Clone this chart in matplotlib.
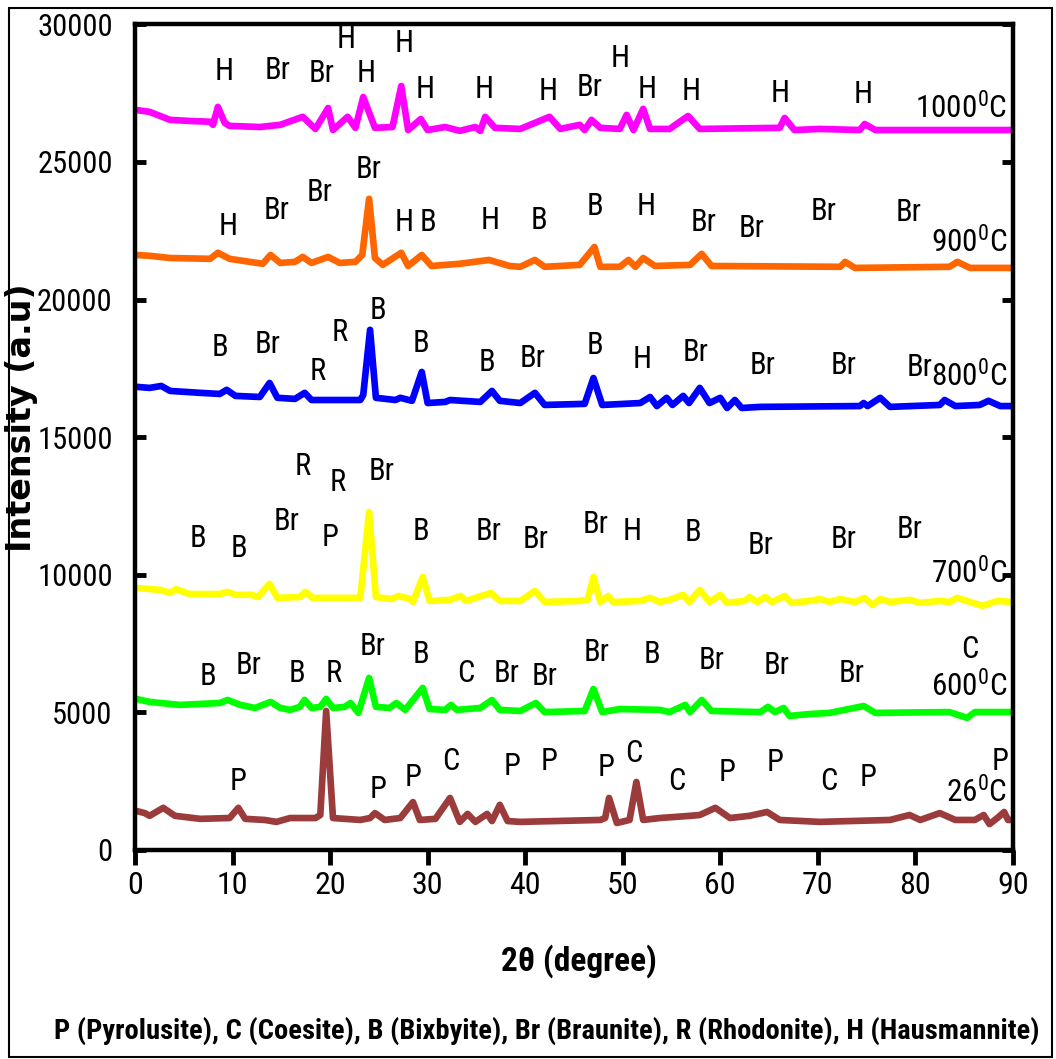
import matplotlib
matplotlib.use('Agg')
import matplotlib.pyplot as plt
from matplotlib import font_manager
from matplotlib.patches import Rectangle

# look for a narrow sans face, the original lettering is condensed
installed = {f.name for f in font_manager.fontManager.ttflist}
FONT = 'DejaVu Sans'
for cand in ['Liberation Sans Narrow', 'Arial Narrow', 'Roboto Condensed', 'Liberation Sans']:
    if cand in installed:
        FONT = cand
        break
plt.rcParams['font.family'] = [FONT, 'DejaVu Sans']
plt.rcParams['mathtext.fontset'] = 'custom'
plt.rcParams['mathtext.rm'] = FONT
plt.rcParams['mathtext.default'] = 'regular'

# ---- diffraction patterns (2theta in degrees, intensity a.u.) ----
tt_1000 = [0.1, 1.5, 3.6, 5.6, 7.7, 8.0, 8.5, 9.2, 9.7, 12.8, 14.9, 17.2, 18.5, 19.8, 20.3, 21.8, 22.6,
           23.4, 24.6, 26.4, 27.3, 28.0, 29.3, 30.0, 31.8, 33.3, 34.9, 35.4, 35.9, 36.9, 39.5, 42.5,
           43.6, 45.6, 46.1, 46.8, 47.7, 49.7, 50.4, 51.1, 52.1, 52.8, 54.8, 56.7, 57.9, 66.1, 66.6,
           67.6, 70.2, 74.3, 74.8, 75.9, 90.0]
int_1000 = [26890, 26820, 26530, 26490, 26460, 26350, 27000, 26420, 26310, 26270, 26350, 26640, 26200,
            26960, 26160, 26640, 26240, 27360, 26240, 26270, 27760, 26160, 26560, 26160, 26270, 26130,
            26270, 26130, 26640, 26240, 26200, 26640, 26200, 26350, 26160, 26530, 26240, 26200, 26710,
            26160, 26930, 26200, 26200, 26670, 26200, 26240, 26600, 26160, 26200, 26160, 26380, 26160,
            26160]

tt_900 = [0.1, 1.5, 3.6, 7.7, 8.5, 9.7, 13.1, 13.9, 14.9, 16.4, 17.2, 18.1, 19.8, 21.0, 22.6, 23.3,
          24.0, 24.6, 25.4, 27.3, 28.0, 29.4, 30.4, 33.3, 36.3, 38.4, 39.5, 41.0, 42.0, 45.6, 47.1,
          47.7, 49.7, 50.6, 51.3, 52.1, 53.3, 56.9, 58.1, 59.1, 72.3, 72.8, 73.8, 83.5, 84.3, 85.6, 90.0]
int_900 = [21620, 21590, 21510, 21480, 21700, 21480, 21300, 21620, 21330, 21370, 21550, 21330, 21550,
           21330, 21370, 21620, 23660, 21510, 21260, 21700, 21220, 21620, 21220, 21300, 21440, 21220,
           21190, 21440, 21190, 21260, 21910, 21190, 21190, 21440, 21190, 21510, 21220, 21260, 21660,
           21220, 21190, 21370, 21150, 21190, 21370, 21150, 21150]

tt_800 = [0.1, 1.5, 2.7, 3.6, 6.7, 8.7, 9.4, 10.3, 12.8, 13.8, 14.6, 16.4, 17.4, 18.1, 23.1, 23.4, 24.1,
          24.7, 26.7, 27.2, 28.4, 29.4, 30.0, 31.8, 32.3, 35.4, 36.6, 37.4, 39.5, 41.0, 42.0, 46.1,
          47.0, 47.9, 51.8, 52.8, 53.5, 54.5, 55.1, 56.2, 56.8, 57.9, 58.9, 60.0, 60.7, 61.5, 62.2,
          64.1, 74.3, 74.7, 75.1, 76.4, 77.4, 82.5, 83.0, 84.1, 86.6, 87.5, 88.7, 90.0]
int_800 = [16830, 16790, 16860, 16680, 16610, 16570, 16720, 16500, 16460, 16970, 16430, 16390, 16610,
           16350, 16350, 16530, 18900, 16430, 16350, 16430, 16320, 17370, 16240, 16280, 16350, 16280,
           16680, 16320, 16240, 16610, 16170, 16210, 17150, 16170, 16240, 16460, 16130, 16430, 16170,
           16500, 16240, 16790, 16240, 16430, 16060, 16350, 16060, 16100, 16130, 16240, 16130, 16430,
           16100, 16170, 16350, 16130, 16170, 16320, 16130, 16130]

tt_700 = [0.1, 2.6, 3.6, 4.2, 5.6, 8.7, 9.5, 10.3, 12.0, 12.6, 13.8, 14.6, 16.9, 17.5, 18.2, 23.1, 24.0,
          24.7, 26.3, 27.0, 28.2, 28.5, 29.5, 30.2, 32.3, 33.4, 33.9, 34.3, 36.5, 37.4, 39.5, 41.0,
          42.0, 45.6, 46.4, 47.0, 47.7, 48.5, 49.0, 51.8, 52.8, 53.8, 54.8, 56.2, 56.8, 57.9, 58.9,
          60.0, 60.7, 62.5, 63.0, 63.8, 64.6, 65.3, 66.6, 67.3, 69.2, 70.2, 71.2, 72.3, 73.8, 74.8,
          75.6, 76.4, 77.4, 79.4, 80.5, 82.5, 83.5, 84.3, 85.6, 86.9, 88.4, 90.0]
int_700 = [9520, 9450, 9340, 9480, 9300, 9300, 9380, 9270, 9270, 9190, 9670, 9160, 9190, 9380, 9160,
           9160, 12280, 9190, 9120, 9230, 9120, 9010, 9920, 9050, 9090, 9230, 9050, 9090, 9340, 9050,
           9050, 9410, 9010, 9050, 9090, 9920, 9010, 9230, 9010, 9050, 9160, 9010, 9090, 9270, 9010,
           9450, 9010, 9270, 8980, 9050, 9190, 9010, 9190, 9010, 9230, 8980, 9050, 9120, 9010, 9120,
           9010, 9160, 8900, 9120, 9010, 9090, 8980, 9050, 9010, 9160, 9010, 8870, 9050, 9010]

tt_600 = [0.1, 1.5, 4.6, 8.7, 9.5, 10.8, 12.3, 13.9, 14.9, 15.9, 16.9, 17.4, 18.1, 19.0, 19.6, 20.3,
          21.5, 22.1, 22.9, 24.0, 24.7, 26.1, 26.8, 27.7, 29.5, 30.2, 31.8, 32.4, 33.0, 35.4, 36.6,
          37.4, 39.5, 41.1, 42.0, 46.1, 47.0, 47.9, 49.7, 53.8, 54.8, 56.4, 56.9, 58.1, 59.1, 64.1,
          64.9, 65.6, 66.5, 67.1, 69.2, 71.2, 74.7, 75.9, 83.5, 85.3, 86.1, 90.0]
int_600 = [5490, 5380, 5270, 5340, 5450, 5270, 5160, 5380, 5160, 5090, 5200, 5450, 5160, 5200, 5490,
           5160, 5200, 5340, 4980, 6250, 5200, 5160, 5340, 5090, 5890, 5120, 5090, 5270, 5090, 5160,
           5450, 5090, 5050, 5340, 5010, 5050, 5850, 5010, 5120, 5090, 5010, 5270, 5010, 5450, 5050,
           5010, 5200, 5010, 5160, 4870, 4940, 4980, 5230, 4980, 5010, 4800, 5010, 5010]

tt_26 = [0.1, 1.0, 1.5, 2.9, 4.1, 6.7, 9.7, 10.6, 11.3, 13.3, 14.5, 15.9, 18.5, 19.0, 19.6, 20.3, 23.1,
         24.1, 24.6, 25.6, 27.2, 28.5, 29.2, 30.8, 32.3, 33.3, 34.1, 34.9, 36.1, 36.6, 37.4, 38.2,
         39.5, 47.7, 48.2, 48.6, 49.4, 50.7, 51.4, 52.1, 53.8, 56.9, 57.9, 59.5, 61.0, 63.0, 64.8,
         66.1, 70.2, 77.4, 79.4, 80.5, 82.5, 84.1, 86.1, 87.0, 87.6, 88.4, 89.1, 89.5, 90.0]
int_26 = [1420, 1340, 1240, 1530, 1240, 1130, 1160, 1530, 1130, 1090, 1020, 1160, 1160, 1270, 5050,
          1160, 1090, 1160, 1340, 1090, 1160, 1740, 1090, 1130, 1890, 1020, 1310, 1020, 1310, 1050,
          1640, 1050, 1020, 1090, 1160, 1890, 980, 1090, 2470, 1090, 1160, 1240, 1270, 1530, 1160,
          1240, 1380, 1090, 1020, 1090, 1270, 1090, 1340, 1090, 1090, 1270, 940, 1160, 1380, 1090, 1090]

# ---- phase labels (letter, 2theta, intensity where the letter sits) ----
lab_1000 = [('H', 9.1, 28270), ('Br', 14.6, 28310), ('Br', 19.1, 28200), ('H', 21.6, 29440),
            ('H', 23.7, 28200), ('H', 27.6, 29290), ('H', 29.7, 27650), ('H', 35.8, 27650),
            ('H', 42.4, 27550), ('Br', 46.6, 27690), ('H', 49.7, 28750), ('H', 52.5, 27620),
            ('H', 57.0, 27550), ('H', 66.1, 27470), ('H', 74.6, 27440)]
lab_900 = [('H', 9.6, 22640), ('Br', 14.5, 23220), ('Br', 18.9, 23880), ('Br', 24.0, 24710),
           ('H', 27.6, 22790), ('B', 30.0, 22790), ('H', 36.4, 22890), ('B', 41.4, 22890),
           ('B', 47.2, 23370), ('H', 52.4, 23370), ('Br', 58.3, 22790), ('Br', 63.2, 22570),
           ('Br', 70.6, 23190), ('Br', 79.3, 23150)]
lab_800 = [('B', 8.7, 18240), ('Br', 13.6, 18350), ('R', 18.7, 17370), ('R', 21.0, 18820),
           ('B', 24.9, 19620), ('B', 29.3, 18390), ('B', 36.1, 17730), ('Br', 40.8, 17840),
           ('B', 47.2, 18320), ('H', 52.0, 17810), ('Br', 57.5, 18060), ('Br', 64.3, 17620),
           ('Br', 72.6, 17590), ('Br', 80.4, 17520)]
lab_700 = [('B', 6.5, 11300), ('B', 10.7, 10970), ('Br', 15.5, 11920), ('R', 17.2, 13920),
           ('R', 20.8, 13370), ('P', 20.0, 11370), ('Br', 25.3, 13740), ('B', 29.3, 11560),
           ('Br', 36.3, 11560), ('Br', 41.1, 11270), ('Br', 47.2, 11810), ('H', 51.0, 11560),
           ('B', 57.2, 11520), ('Br', 64.1, 11080), ('Br', 72.6, 11270), ('Br', 79.4, 11630)]
lab_600 = [('B', 7.5, 6320), ('Br', 11.7, 6720), ('B', 16.6, 6430), ('R', 20.4, 6430),
           ('Br', 24.4, 7380), ('B', 29.3, 7090), ('C', 33.9, 6430), ('Br', 38.1, 6400),
           ('Br', 42.0, 6290), ('Br', 47.3, 7160), ('B', 53.0, 7090), ('Br', 59.1, 6900),
           ('Br', 65.8, 6690), ('Br', 73.5, 6430), ('C', 85.6, 7270)]
lab_26 = [('P', 10.6, 2470), ('P', 24.9, 2180), ('P', 28.5, 2650), ('C', 32.4, 3200),
          ('P', 38.7, 3020), ('P', 42.4, 3200), ('P', 48.3, 2980), ('C', 51.1, 3520),
          ('C', 55.5, 2470), ('P', 60.7, 2800), ('P', 65.6, 3160), ('C', 71.1, 2470),
          ('P', 75.2, 2650), ('P', 88.7, 3200)]

temps = ['1000', '900', '800', '700', '600', '26']
temp_y = [26960, 22100, 17230, 10070, 5960, 2110]
colors = ['#ff00ff', '#ff6600', '#0000ff', '#ffff00', '#00ff00', '#9b3b3b']
series = [(tt_1000, int_1000, lab_1000), (tt_900, int_900, lab_900), (tt_800, int_800, lab_800),
          (tt_700, int_700, lab_700), (tt_600, int_600, lab_600), (tt_26, int_26, lab_26)]

x_ticks = list(range(0, 91, 10))
y_ticks = list(range(0, 30001, 5000))

fig = plt.figure(figsize=(10.56, 10.59), dpi=100)
ax = fig.add_axes([0.1278, 0.1974, 0.8314, 0.7796])

for (tt, inten, labs), col in zip(series, colors):
    ax.plot(tt, inten, color=col, lw=4.8, solid_joinstyle='round', solid_capstyle='butt')
    for txt, lx, ly in labs:
        ax.text(lx, ly, txt, ha='center', va='center', fontsize=22)

for t, ty in zip(temps, temp_y):
    ax.text(89.4, ty, t + r'$^{\mathrm{0}}$C', ha='right', va='center', fontsize=22.5)

ax.set_xlim(0, 90)
ax.set_ylim(0, 30000)
ax.set_xticks(x_ticks)
ax.set_yticks(y_ticks)
ax.tick_params(axis='y', direction='in', length=8, width=3.5, right=True, labelsize=22, pad=16)
ax.tick_params(axis='x', direction='out', length=11, width=3.5, top=False, labelsize=23, pad=4)
for sp in ax.spines.values():
    sp.set_linewidth(3.2)

fig.text(0.020, 0.606, 'Intensity (a.u)', rotation=90, ha='center', va='center',
         fontsize=24, fontweight='bold', family=['DejaVu Sans'])
fig.text(0.548, 0.092, '2θ (degree)', ha='center', va='center', fontsize=24, fontweight='bold')
fig.text(0.518, 0.027,
         'P (Pyrolusite), C (Coesite), B (Bixbyite), Br (Braunite), R (Rhodonite), H (Hausmannite)',
         ha='center', va='center', fontsize=20.5, fontweight='bold')

# thin frame round the whole picture
fig.patches.append(Rectangle((0.0085, 0.002), 0.988, 0.9905, transform=fig.transFigure,
                             fill=False, lw=1.5, ec='black'))

fig.savefig('out.png', dpi=100)
